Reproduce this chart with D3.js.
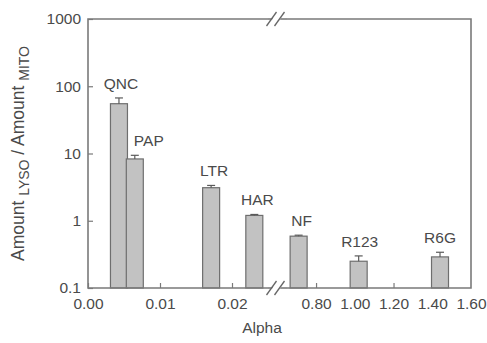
<!DOCTYPE html>
<html>
<head>
<meta charset="utf-8">
<script src="https://cdn.jsdelivr.net/npm/d3@7"></script>
<style>
  body { margin: 0; background: #fff; }
  text { font-family: "Liberation Sans", Arial, sans-serif; fill: #4a4a4a; }
</style>
</head>
<body>
<svg id="chart"></svg>
<script>
// data
const compounds = ["QNC", "PAP", "LTR", "HAR", "NF", "R123", "R6G"];
const alpha = [0.0043, 0.0065, 0.0171, 0.0231, 0.71, 1.02, 1.44];
const ratio = [55, 8.3, 3.1, 1.2, 0.59, 0.25, 0.29];
const errUp = [12, 1.1, 0.25, 0.04, 0.02, 0.05, 0.05];

const yTicks = [0.1, 1, 10, 100, 1000];
const xTicksLeft = [0, 0.01, 0.02];
const xTicksRight = [0.8, 1.0, 1.2, 1.4, 1.6];
const xTickMarksRight = [0.8, 1.2];

// label nudges (px) so text sits like in the figure
const labelDx = [2, 14, 3, 3, 3, 1, 0];

const width = 487, height = 343;
const mLeft = 88, mRight = 471, mTop = 19, mBottom = 288;
const breakL = 268, breakR = 287;
const barW = 17;
const axisColor = "#7a7a7a";
const fs = 15.5;

const svg = d3.select("#chart").attr("width", width).attr("height", height);

const y = d3.scaleLog().domain([0.1, 1000]).range([mBottom, mTop]);
const xL = d3.scaleLinear().domain([0, 0.025]).range([mLeft, breakL]);
const xR = d3.scaleLinear().domain([0.65, 1.6]).range([breakR, mRight]);
const xPos = a => a < 0.1 ? xL(a) : xR(a);

// bars
const bars = svg.append("g");
compounds.forEach((c, i) => {
  const cx = xPos(alpha[i]);
  bars.append("rect")
    .attr("x", cx - barW / 2)
    .attr("y", y(ratio[i]))
    .attr("width", barW)
    .attr("height", mBottom - y(ratio[i]))
    .attr("fill", "#c2c2c2")
    .attr("stroke", "#6e6e6e")
    .attr("stroke-width", 1.2);

  // error bar (upper only)
  const yt = y(ratio[i] + errUp[i]);
  bars.append("line")
    .attr("x1", cx).attr("x2", cx)
    .attr("y1", y(ratio[i])).attr("y2", yt)
    .attr("stroke", "#5a5a5a").attr("stroke-width", 1.2);
  bars.append("line")
    .attr("x1", cx - 4).attr("x2", cx + 4)
    .attr("y1", yt).attr("y2", yt)
    .attr("stroke", "#5a5a5a").attr("stroke-width", 1.2);

  bars.append("text")
    .attr("x", cx + labelDx[i])
    .attr("y", yt - 9)
    .attr("text-anchor", "middle")
    .attr("font-size", fs)
    .text(c);
});

// axes
const yAxis = d3.axisLeft(y)
  .tickValues(yTicks)
  .tickSize(-5)
  .tickPadding(7)
  .tickFormat(d => d < 1 ? d3.format(".1f")(d) : d3.format("d")(d));

const gy = svg.append("g").attr("transform", `translate(${mLeft},0)`).call(yAxis);
gy.selectAll("text").attr("font-size", fs);

const gxL = svg.append("g").attr("transform", `translate(0,${mBottom})`)
  .call(d3.axisBottom(xL).tickValues(xTicksLeft).tickSize(-5).tickPadding(10)
    .tickFormat(d3.format(".2f")));
gxL.selectAll("text").attr("font-size", fs);

const gxR = svg.append("g").attr("transform", `translate(0,${mBottom})`)
  .call(d3.axisBottom(xR).tickValues(xTicksRight).tickSize(0).tickPadding(10)
    .tickFormat(d3.format(".2f")));
gxR.selectAll("text").attr("font-size", fs);
gxR.selectAll(".tick")
  .filter(d => xTickMarksRight.includes(d))
  .append("line").attr("y2", -5);

svg.selectAll(".domain").remove();
svg.selectAll(".tick line").attr("stroke", axisColor).attr("stroke-width", 1.2);

// frame with break on x
const frame = svg.append("g").attr("fill", "none").attr("stroke", axisColor).attr("stroke-width", 1.6);
frame.append("path").attr("d", `M${breakL},${mTop}H${mLeft}V${mBottom}H${breakL}`);
frame.append("path").attr("d", `M${breakR},${mTop}H${mRight}V${mBottom}H${breakR}`);
frame.append("line").attr("x1", breakL).attr("x2", breakR).attr("y1", mTop).attr("y2", mTop);
frame.append("line").attr("x1", breakL).attr("x2", breakR).attr("y1", mBottom).attr("y2", mBottom);

// break marks
const mid = (breakL + breakR) / 2;
[mTop, mBottom].forEach(yy => {
  svg.append("polygon")
    .attr("points", `${mid - 9},${yy + 6} ${mid - 1},${yy + 6} ${mid + 7},${yy - 6} ${mid - 1},${yy - 6}`)
    .attr("fill", "#fff");
  [-4, 4].forEach(o => {
    svg.append("line")
      .attr("x1", mid + o - 7).attr("y1", yy + 7)
      .attr("x2", mid + o + 3).attr("y2", yy - 7)
      .attr("stroke", "#666").attr("stroke-width", 1.3);
  });
});

// axis titles
svg.append("text")
  .attr("x", 262).attr("y", 333)
  .attr("text-anchor", "middle")
  .attr("font-size", fs)
  .text("Alpha");

const ytitle = svg.append("text")
  .attr("transform", `translate(24,${(mTop + mBottom) / 2}) rotate(-90)`)
  .attr("text-anchor", "middle")
  .attr("font-size", 17.5);
ytitle.append("tspan").text("Amount ");
ytitle.append("tspan").attr("font-size", 14).attr("dy", 5).text("LYSO");
ytitle.append("tspan").attr("dy", -5).text(" / Amount ");
ytitle.append("tspan").attr("font-size", 14).attr("dy", 5).text("MITO");
</script>
</body>
</html>
